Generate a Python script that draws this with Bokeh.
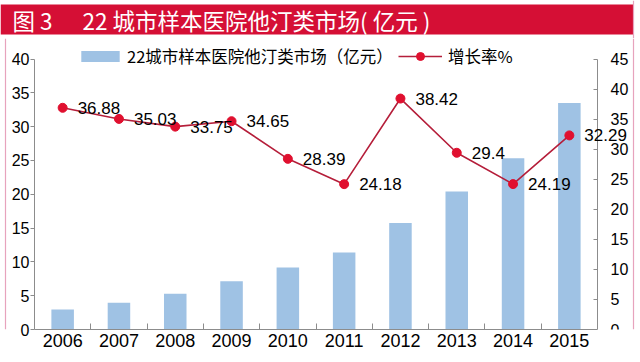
from bokeh.plotting import figure
from bokeh.layouts import column, row
from bokeh.core.properties import value
from bokeh.models import (Range1d, LinearAxis, FixedTicker, LabelSet, Label, Span,
                          BoxAnnotation, Legend, LegendItem, ColumnDataSource)
from bokeh.embed import file_html
from bokeh.resources import INLINE

# ---- data ----
years = [2006, 2007, 2008, 2009, 2010, 2011, 2012, 2013, 2014, 2015]
market = [2.94, 3.97, 5.30, 7.14, 9.17, 11.38, 15.76, 20.39, 25.32, 33.50]
growth = [36.88, 35.03, 33.75, 34.65, 28.39, 24.18, 38.42, 29.4, 24.19, 32.29]
growth_labels = ["36.88", "35.03", "33.75", "34.65", "28.39", "24.18", "38.42", "29.4", "24.19", "32.29"]
left_ticks = [0, 5, 10, 15, 20, 25, 30, 35, 40]
right_ticks = [0, 5, 10, 15, 20, 25, 30, 35, 40, 45]
title_a = "图 3"
title_b = "22 城市样本医院他汀类市场( 亿元 )"
bar_name = "22城市样本医院他汀类市场（亿元）"
line_name = "增长率%"

BAR = "#9FC2E4"
LINE = "#B51E3A"
DOT = "#E0102F"
RED = "#D50F35"
PINK = "#E7A3BD"
AX = "#8C8C8C"
NUM_FONT = "Liberation Sans"
CJK = "Noto Sans CJK SC"

TOTAL_W, TOTAL_H = 640, 362
HEAD_H = 38
LSTRIP_W, RSTRIP_W = 8, 10
MAIN_W = TOTAL_W - LSTRIP_W - RSTRIP_W
MAIN_H = TOTAL_H - HEAD_H


def blank(w, h):
    f = figure(width=w, height=h, output_backend="svg", toolbar_location=None,
               x_range=Range1d(0, w), y_range=Range1d(0, h),
               x_axis_type=None, y_axis_type=None,
               min_border=0, min_border_left=0, min_border_right=0,
               min_border_top=0, min_border_bottom=0)
    f.outline_line_color = None
    f.title.visible = False
    f.background_fill_color = "white"
    f.border_fill_color = "white"
    return f


# ---- header (red title band) ----
head = blank(TOTAL_W, HEAD_H)
head.add_layout(BoxAnnotation(left=0, right=633, bottom=4, top=34,
                              left_units="screen", right_units="screen",
                              top_units="screen", bottom_units="screen",
                              fill_color=RED, fill_alpha=1, line_color=None))
head.add_layout(Span(location=633, location_units="screen", dimension="height",
                     line_color=PINK, line_width=1.2))
head.add_layout(Label(x=12, y=19, x_units="screen", y_units="screen", text=title_a,
                      text_font=CJK, text_font_size="22.5px", text_color="white",
                      text_baseline="middle"))
head.add_layout(Label(x=82, y=19, x_units="screen", y_units="screen", text=title_b,
                      text_font=CJK, text_font_size="22.5px", text_color="white",
                      text_baseline="middle"))

# ---- side strips (pink page border) ----
lstrip = blank(LSTRIP_W, MAIN_H)
lstrip.add_layout(Span(location=5, location_units="screen", dimension="height",
                       line_color=PINK, line_width=1.2))
rstrip = blank(RSTRIP_W, MAIN_H)
rstrip.add_layout(Span(location=3, location_units="screen", dimension="height",
                       line_color=PINK, line_width=1.2))

# ---- main chart ----
ML, MR, MT, MB = 26, 0, 0, 33
FRAME_H = MAIN_H - MT - MB
FRAME_W = MAIN_W - ML - MR
AXIS_PX = 270.5   # pixels from 0 to the top tick (40 / 45)
CAT_PX = 56.3     # pixels per year
x0 = years[0] - 0.5
p = figure(width=MAIN_W, height=MAIN_H, output_backend="svg", toolbar_location=None,
           x_range=Range1d(x0, x0 + FRAME_W / CAT_PX),
           y_range=Range1d(0, left_ticks[-1] * FRAME_H / AXIS_PX),
           min_border_left=ML, min_border_right=MR,
           min_border_top=MT, min_border_bottom=MB)
p.extra_y_ranges = {"right": Range1d(0, right_ticks[-1] * FRAME_H / AXIS_PX)}
p.title.visible = False
p.outline_line_color = None
p.xgrid.visible = False
p.ygrid.visible = False
p.background_fill_color = "white"
p.border_fill_color = "white"

src = ColumnDataSource(dict(x=years, m=market, g=growth, lab=growth_labels))

bars = p.vbar(x="x", top="m", width=0.4, source=src, fill_color=BAR, line_color=None)
ln = p.line(x="x", y="g", source=src, y_range_name="right", line_color=LINE, line_width=1.6)
dots = p.scatter(x="x", y="g", source=src, y_range_name="right", size=9,
                 fill_color=DOT, line_color=DOT)

# x axis
xa = p.xaxis[0]
xa.ticker = FixedTicker(ticks=years, minor_ticks=[y + 0.5 for y in years[:-1]])
xa.bounds = (years[0] - 0.5, years[-1] + 0.5)
xa.major_tick_in = 0
xa.major_tick_out = 0
xa.minor_tick_in = 6
xa.minor_tick_out = 0
xa.axis_line_color = AX
xa.minor_tick_line_color = AX
xa.major_label_text_font = NUM_FONT
xa.major_label_text_font_size = "18px"
xa.major_label_text_color = "black"
xa.major_label_standoff = 4

# left axis
ya = p.yaxis[0]
ya.ticker = FixedTicker(ticks=left_ticks)
ya.bounds = (left_ticks[0], left_ticks[-1])
ya.major_tick_in = 0
ya.major_tick_out = 4
ya.minor_tick_line_color = None
ya.axis_line_color = AX
ya.major_tick_line_color = AX
ya.major_label_text_font = NUM_FONT
ya.major_label_text_font_size = "16px"
ya.major_label_text_color = "black"
ya.major_label_standoff = 1

# right axis, drawn at the right edge of the last category
ra = LinearAxis(y_range_name="right", ticker=FixedTicker(ticks=right_ticks),
                bounds=(right_ticks[0], right_ticks[-1]),
                fixed_location=years[-1] + 0.5)
ra.major_tick_in = 4
ra.major_tick_out = 0
ra.minor_tick_line_color = None
ra.axis_line_color = AX
ra.major_tick_line_color = AX
ra.major_label_text_font = NUM_FONT
ra.major_label_text_font_size = "16px"
ra.major_label_text_color = "black"
ra.major_label_standoff = 13
p.add_layout(ra, "right")

p.add_layout(LabelSet(x="x", y="g", text="lab", source=src, y_range_name="right",
                      x_offset=15, text_baseline="middle",
                      text_font=value(NUM_FONT), text_font_size="17px",
                      text_color="black"))

LEG_Y = FRAME_H - 56 + 38 - 12  # legend centred ~20px below the frame top
leg1 = Legend(items=[LegendItem(label=bar_name, renderers=[bars])],
              location=(42, LEG_Y), orientation="horizontal",
              glyph_width=48, glyph_height=14, label_standoff=3, padding=0, margin=0,
              border_line_color=None, background_fill_alpha=0,
              label_text_font=CJK, label_text_font_size="16.5px", label_text_color="black")
leg2 = Legend(items=[LegendItem(label=line_name, renderers=[ln, dots])],
              location=(364, LEG_Y), orientation="horizontal",
              glyph_width=44, glyph_height=20, label_standoff=6, padding=0, margin=0,
              border_line_color=None, background_fill_alpha=0,
              label_text_font=CJK, label_text_font_size="16.5px", label_text_color="black")
p.add_layout(leg1)
p.add_layout(leg2)

layout = column(head, row(lstrip, p, rstrip))

open("out.html", "w").write(file_html(layout, INLINE))
